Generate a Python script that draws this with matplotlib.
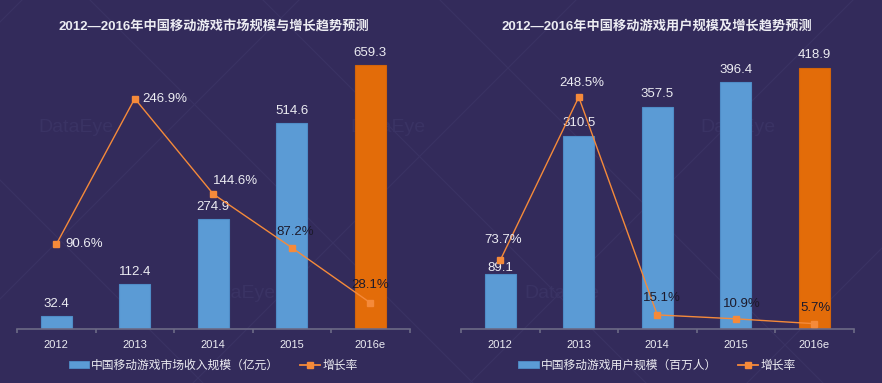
import matplotlib
matplotlib.use("Agg")
import matplotlib.pyplot as plt
from matplotlib.lines import Line2D
from matplotlib.patches import Patch

plt.rcParams["font.family"] = ["Liberation Sans", "Noto Sans CJK SC", "DejaVu Sans"]

years = ["2012", "2013", "2014", "2015", "2016e"]
revenue = [32.4, 112.4, 274.9, 514.6, 659.3]
revenue_growth = [90.6, 246.9, 144.6, 87.2, 28.1]
users = [89.1, 310.5, 357.5, 396.4, 418.9]
user_growth = [73.7, 248.5, 15.1, 10.9, 5.7]

BG = "#332b5b"
BLUE = "#5b9bd5"
ORANGE_BAR = "#e36c09"
ORANGE_LINE = "#f58a3a"
AXIS = "#6c6a86"
LIGHT = "#ececf2"
DARK = "#1c1a2c"
WATERMARK = "#3a3364"

W, H = 882, 383


def px(x, y):
    # pixel (from top-left) -> figure fraction
    return x / W, 1 - y / H


fig = plt.figure(figsize=(W / 100, H / 100), dpi=100)
fig.patch.set_facecolor(BG)

# faint watermark lattice and logo text
for c in (-440, -263, -90, 180, 420):
    fig.add_artist(Line2D([0, 1], [1 - c / H, 1 - (W + c) / H],
                          transform=fig.transFigure, color=WATERMARK, lw=0.8, zorder=-5))
for d in (22, 299, 576, 853, 1130):
    fig.add_artist(Line2D([0, 1], [1 - d / H, 1 - (d - W) / H],
                          transform=fig.transFigure, color=WATERMARK, lw=0.8, zorder=-5))
for wx, wy in [(38, 128), (350, 128), (700, 128), (200, 293), (524, 293)]:
    fig.text(*px(wx, wy), "DataEye", fontsize=14, color=WATERMARK, ha="left", va="center", zorder=-5)


def draw_panel(left_px, title, title_x, values, growth, ymax, bar_offsets, pct_offsets, pct_colors,
               legend_label):
    ax = fig.add_axes([left_px / W, (H - 329) / H, 392.5 / W, 280 / H])
    ax.set_facecolor("none")
    x = list(range(len(years)))
    colors = [BLUE] * (len(years) - 1) + [ORANGE_BAR]
    edges = ["#4f8cc7"] * (len(years) - 1) + ["#d2640a"]
    ax.bar(x, values, width=0.4, color=colors, edgecolor=edges, linewidth=0.8, zorder=2)
    ax.set_xlim(-0.5, len(years) - 0.5)
    ax.set_ylim(0, ymax)
    for side in ("top", "left", "right"):
        ax.spines[side].set_visible(False)
    ax.spines["bottom"].set_color(AXIS)
    ax.spines["bottom"].set_linewidth(1.2)
    ax.set_yticks([])
    ax.set_xticks(x)
    ax.set_xticklabels(years, fontsize=8, color=LIGHT)
    ax.tick_params(axis="x", which="major", length=0, pad=8)
    ax.set_xticks([i - 0.5 for i in range(len(years) + 1)], minor=True)
    ax.tick_params(axis="x", which="minor", length=3, width=1.2, color=AXIS, direction="out")

    for xi, v, off in zip(x, values, bar_offsets):
        ax.annotate(f"{v:.1f}", (xi, v), xytext=(0, off), textcoords="offset pixels",
                    ha="center", va="center", fontsize=9.5, color=LIGHT)

    ax2 = ax.twinx()
    ax2.set_ylim(0, 300)
    ax2.axis("off")
    ax2.plot(x, growth, color=ORANGE_LINE, lw=1.0, marker="s", markersize=4.2,
             markerfacecolor=ORANGE_LINE, markeredgecolor=ORANGE_LINE, zorder=3)
    for xi, g, (dx, dy, ha), col in zip(x, growth, pct_offsets, pct_colors):
        ax2.annotate(f"{g:.1f}%", (xi, g), xytext=(dx, dy), textcoords="offset pixels",
                     ha=ha, va="center", fontsize=9.5, color=col)

    fig.text(*px(title_x, 26), title, fontsize=9.5, fontweight="bold", color=LIGHT,
             ha="center", va="center")

    handles = [
        Patch(facecolor=BLUE, edgecolor="#4f8cc7", linewidth=0.6),
        Line2D([0], [0], color=ORANGE_LINE, lw=1.3, marker="s", markersize=5),
    ]
    ax.legend(handles, [legend_label, "增长率"], loc="center", bbox_to_anchor=(0.5, -0.132),
              ncol=2, frameon=False, fontsize=8.5, handlelength=1.7, handleheight=0.5,
              handletextpad=0.2, columnspacing=1.8, labelcolor=LIGHT)
    return ax


draw_panel(17, "2012—2016年中国移动游戏市场规模与增长趋势预测", 214, revenue, revenue_growth, 700,
           [12, 12, 12, 12, 12],
           [(9, 0, "left"), (8, 0, "left"), (0, 13, "left"), (3, 16, "center"), (0, 18, "center")],
           [LIGHT, LIGHT, LIGHT, DARK, DARK],
           "中国移动游戏市场收入规模（亿元）")

draw_panel(461, "2012—2016年中国移动游戏用户规模及增长趋势预测", 657, users, user_growth, 450,
           [6, 13, 13, 12, 13],
           [(3, 20, "center"), (3, 14, "center"), (5, 17, "center"), (6, 15, "center"), (1, 16, "center")],
           [LIGHT, LIGHT, DARK, DARK, DARK],
           "中国移动游戏用户规模（百万人）")

fig.savefig("out.png", dpi=100, facecolor=BG)
